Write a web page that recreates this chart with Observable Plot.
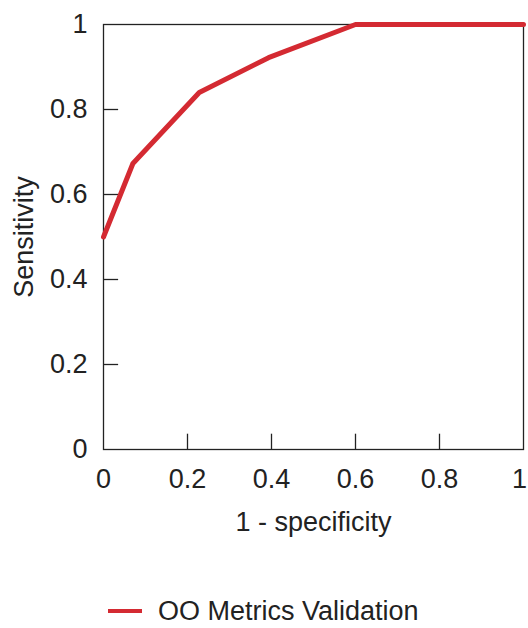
<!DOCTYPE html>
<html><head><meta charset="utf-8">
<script src="https://cdn.jsdelivr.net/npm/d3@7"></script>
<script src="https://cdn.jsdelivr.net/npm/@observablehq/plot@0.6"></script>
<style>
body{margin:0;background:#fff;font-family:"Liberation Sans",Arial,sans-serif;position:relative;width:528px;height:628px;overflow:hidden}
#legend{position:absolute;left:108px;top:596px;height:30px;display:flex;align-items:center;font-size:27px;color:#222;white-space:nowrap}
#legend span.sw{display:inline-block;width:34px;height:4px;background:#d42a32;margin-right:16px}
</style></head>
<body>
<div id="chart"></div>
<div id="legend"><span class="sw"></span><span id="legtext"></span></div>
<script>
const fpr = [0, 0.07, 0.228, 0.393, 0.6, 1];
const tpr = [0.5, 0.673, 0.84, 0.922, 1, 1];
const seriesName = "OO Metrics Validation";
const ticks = [0, 0.2, 0.4, 0.6, 0.8, 1];
const innerTicks = [0.2, 0.4, 0.6, 0.8];
const xLabel = "1 - specificity";
const yLabel = "Sensitivity";

const data = fpr.map((x, i) => ({x, y: tpr[i], s: seriesName}));
const red = "#d42a32";
document.getElementById("legtext").textContent = seriesName;

const chart = Plot.plot({
  width: 528, height: 590,
  marginLeft: 103, marginRight: 5, marginTop: 24, marginBottom: 141,
  style: {fontFamily: "'Liberation Sans', Arial, sans-serif", fontSize: "27px", color: "#222", background: "#fff"},
  x: {domain: [0, 1]},
  y: {domain: [0, 1]},
  marks: [
    Plot.frame({stroke: "#222", strokeWidth: 1.3}),
    Plot.ruleY(innerTicks, {y: d => d, x1: 0, x2: 0.036, stroke: "#222", strokeWidth: 1.3}),
    Plot.ruleX(innerTicks, {x: d => d, y1: 0, y2: 0.036, stroke: "#222", strokeWidth: 1.3}),
    Plot.axisX(ticks.slice(0, -1), {tickSize: 0, tickPadding: 19, tickFormat: d => String(d), label: xLabel, labelAnchor: "center", labelOffset: 81, labelArrow: "none", fontSize: 27}),
    Plot.axisX(ticks.slice(-1), {tickSize: 0, tickPadding: 19, tickFormat: d => String(d), label: null, dx: -4, fontSize: 27}),
    Plot.axisY(ticks, {tickSize: 0, tickPadding: 16, tickFormat: d => String(d), label: yLabel, labelAnchor: "center", labelOffset: 90, labelArrow: "none", fontSize: 27}),
    Plot.line(data, {x: "x", y: "y", stroke: red, strokeWidth: 5, strokeLinejoin: "round"})
  ]
});
document.getElementById("chart").appendChild(chart);
</script>
</body></html>
